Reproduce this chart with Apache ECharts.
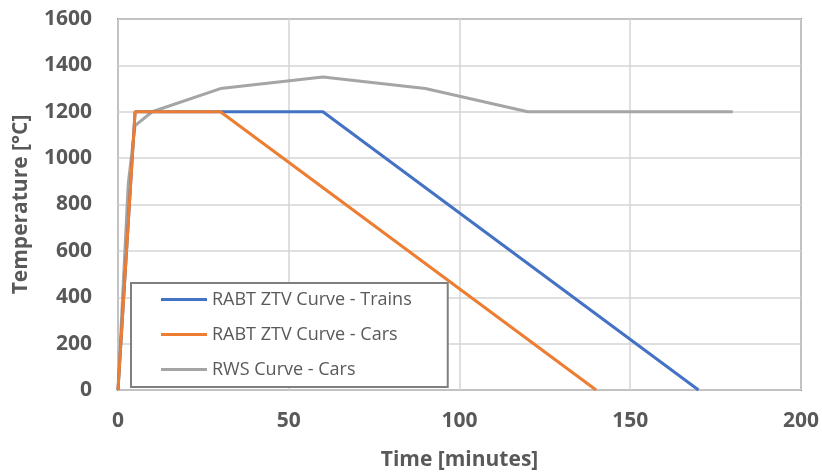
<!DOCTYPE html>
<html>
<head>
<meta charset="utf-8">
<script src="https://cdn.jsdelivr.net/npm/echarts@6/dist/echarts.min.js"></script>
<style>
  html, body { margin: 0; padding: 0; background: #fff; }
  #chart { width: 822px; height: 476px; }
</style>
</head>
<body>
<div id="chart"></div>
<script>
const seriesNames = ['RABT ZTV Curve - Trains', 'RABT ZTV Curve - Cars', 'RWS Curve - Cars']
const trainsPoints = [[0, 0], [5, 1200], [60, 1200], [170, 0]]
const carsPoints = [[0, 0], [5, 1200], [30, 1200], [140, 0]]
const rwsPoints = [[0, 0], [3, 890], [5, 1140], [10, 1200], [30, 1300], [60, 1350], [90, 1300], [120, 1200], [180, 1200]]
const colors = ['#4472C4', '#ED7D31', '#A5A5A5']

const chart = echarts.init(document.getElementById('chart'))
const font = 'Open Sans, Liberation Sans, sans-serif'

chart.setOption({
  animation: false,
  grid: { left: 118, right: 21, top: 19, bottom: 85, show: true, borderColor: '#8c8c8c', borderWidth: 2 },
  legend: {
    orient: 'vertical',
    left: 131,
    top: 283,
    padding: [6, 36, 7, 30],
    itemGap: 14,
    itemWidth: 46,
    itemHeight: 3,
    icon: 'rect',
    backgroundColor: '#fff',
    borderColor: '#7f7f7f',
    borderWidth: 2,
    textStyle: { fontFamily: font, fontSize: 18, color: '#595959', lineHeight: 21 },
    data: seriesNames
  },
  xAxis: {
    type: 'value',
    min: 0, max: 200, interval: 50,
    name: 'Time [minutes]',
    nameLocation: 'middle',
    nameGap: 60,
    nameTextStyle: { fontFamily: font, fontSize: 21, fontWeight: 'bold', color: '#595959' },
    axisLine: { show: false },
    axisTick: { show: false },
    axisLabel: { margin: 21, fontFamily: font, fontSize: 21, fontWeight: 'bold', color: '#595959' },
    splitLine: { lineStyle: { color: '#d4d4d4', width: 1.5 } }
  },
  yAxis: {
    type: 'value',
    min: 0, max: 1600, interval: 200,
    name: 'Temperature [°C]',
    nameLocation: 'middle',
    nameGap: 86,
    nameTextStyle: { fontFamily: font, fontSize: 21, fontWeight: 'bold', color: '#595959' },
    axisLine: { show: false },
    axisTick: { show: false },
    axisLabel: { margin: 26, fontFamily: font, fontSize: 21, fontWeight: 'bold', color: '#595959', formatter: v => String(v) },
    splitLine: { lineStyle: { color: '#d4d4d4', width: 1.5 } }
  },
  series: [
    { name: seriesNames[2], type: 'line', data: rwsPoints, symbol: 'none', color: colors[2], lineStyle: { width: 3 } },
    { name: seriesNames[0], type: 'line', data: trainsPoints, symbol: 'none', color: colors[0], lineStyle: { width: 3 } },
    { name: seriesNames[1], type: 'line', data: carsPoints, symbol: 'none', color: colors[1], lineStyle: { width: 3 } }
  ]
})
</script>
</body>
</html>
